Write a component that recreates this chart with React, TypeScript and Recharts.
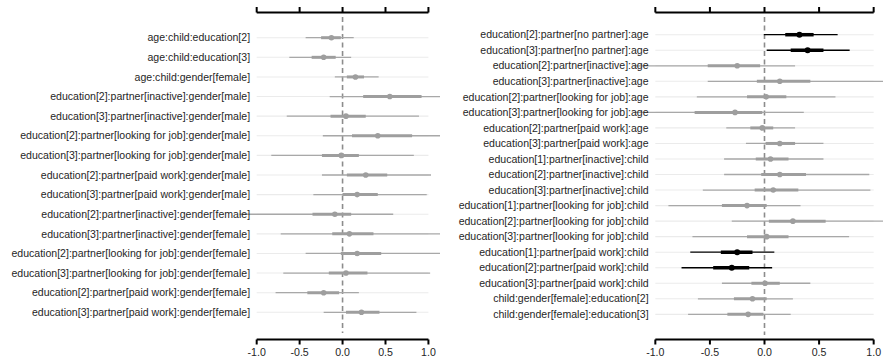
import { ErrorBar, ReferenceLine, Scatter, ScatterChart, XAxis, YAxis } from "recharts";

const xTicks = [-1, -0.5, 0, 0.5, 1];

// left panel
const leftLabels = [
  "age:child:education[2]",
  "age:child:education[3]",
  "age:child:gender[female]",
  "education[2]:partner[inactive]:gender[male]",
  "education[3]:partner[inactive]:gender[male]",
  "education[2]:partner[looking for job]:gender[male]",
  "education[3]:partner[looking for job]:gender[male]",
  "education[2]:partner[paid work]:gender[male]",
  "education[3]:partner[paid work]:gender[male]",
  "education[2]:partner[inactive]:gender[female]",
  "education[3]:partner[inactive]:gender[female]",
  "education[2]:partner[looking for job]:gender[female]",
  "education[3]:partner[looking for job]:gender[female]",
  "education[2]:partner[paid work]:gender[female]",
  "education[3]:partner[paid work]:gender[female]",
];
const leftEst = [-0.13, -0.22, 0.15, 0.55, 0.04, 0.41, -0.015, 0.27, 0.17, -0.09, 0.08, 0.17, 0.04, -0.22, 0.22];
const leftInnerLo = [-0.25, -0.36, 0.05, 0.24, -0.14, 0.11, -0.24, 0.05, 0.0, -0.35, -0.12, -0.02, -0.16, -0.41, 0.04];
const leftInnerHi = [-0.02, -0.08, 0.25, 0.92, 0.27, 0.81, 0.19, 0.52, 0.41, 0.1, 0.36, 0.45, 0.29, -0.04, 0.43];
const leftOuterLo = [-0.43, -0.62, -0.09, -0.15, -0.65, -0.23, -0.83, -0.24, -0.34, -1.2, -0.72, -0.43, -0.69, -0.78, -0.22];
const leftOuterHi = [0.13, 0.1, 0.42, 1.2, 0.89, 1.2, 0.83, 1.03, 0.98, 0.59, 1.2, 1.2, 1.02, 0.19, 0.86];
const leftSig = leftEst.map(() => false);

// right panel
const rightLabels = [
  "education[2]:partner[no partner]:age",
  "education[3]:partner[no partner]:age",
  "education[2]:partner[inactive]:age",
  "education[3]:partner[inactive]:age",
  "education[2]:partner[looking for job]:age",
  "education[3]:partner[looking for job]:age",
  "education[2]:partner[paid work]:age",
  "education[3]:partner[paid work]:age",
  "education[1]:partner[inactive]:child",
  "education[2]:partner[inactive]:child",
  "education[3]:partner[inactive]:child",
  "education[1]:partner[looking for job]:child",
  "education[2]:partner[looking for job]:child",
  "education[3]:partner[looking for job]:child",
  "education[1]:partner[paid work]:child",
  "education[2]:partner[paid work]:child",
  "education[3]:partner[paid work]:child",
  "child:gender[female]:education[2]",
  "child:gender[female]:education[3]",
];
const rightEst = [0.32, 0.395, -0.25, 0.14, 0.015, -0.27, -0.02, 0.14, 0.055, 0.14, 0.08, -0.16, 0.26, 0.02, -0.25, -0.3, 0.005, -0.11, -0.15];
const rightInnerLo = [0.19, 0.24, -0.52, -0.07, -0.16, -0.64, -0.13, 0.01, -0.08, -0.03, -0.09, -0.39, 0.04, -0.16, -0.4, -0.47, -0.12, -0.28, -0.34];
const rightInnerHi = [0.45, 0.54, -0.04, 0.42, 0.2, -0.02, 0.08, 0.28, 0.22, 0.38, 0.31, 0.02, 0.56, 0.22, -0.11, -0.14, 0.14, 0.02, -0.01];
const rightOuterLo = [-0.006, 0.02, -1.2, -0.52, -0.62, -1.2, -0.35, -0.17, -0.37, -0.37, -0.565, -0.88, -0.3, -0.66, -0.68, -0.76, -0.39, -0.61, -0.7];
const rightOuterHi = [0.67, 0.78, 0.28, 1.2, 0.65, 0.36, 0.28, 0.54, 0.54, 0.96, 0.97, 0.33, 1.2, 0.775, 0.09, 0.07, 0.42, 0.26, 0.24];
const rightSig = [true, true, false, false, false, false, false, false, false, false, false, false, false, false, true, true, false, false, false];

type Row = { x: number; y: number; inner: [number, number]; outer: [number, number]; sig: boolean };

function buildRows(est: number[], inLo: number[], inHi: number[], outLo: number[], outHi: number[], sig: boolean[]): Row[] {
  return est.map((e, i) => ({
    x: e,
    y: i,
    inner: [e - inLo[i], inHi[i] - e],
    outer: [e - outLo[i], outHi[i] - e],
    sig: sig[i],
  }));
}

const FONT = "'Liberation Sans', Arial, sans-serif";

type PanelProps = {
  width: number;
  labels: string[];
  rows: Row[];
  xDomain: [number, number];
  yDomain: [number, number];
  zeroSpan: [number, number];
  yAxisWidth: number;
  marginRight: number;
};

function Panel({ width, labels, rows, xDomain, yDomain, zeroSpan, yAxisWidth, marginRight }: PanelProps) {
  const grey = rows.filter((r) => !r.sig);
  const dark = rows.filter((r) => r.sig);
  const rowTicks = labels.map((_, i) => i);

  return (
    <ScatterChart width={width} height={363} margin={{ top: 0, right: marginRight, bottom: 0, left: 0 }}>
      <XAxis
        xAxisId="top"
        orientation="top"
        type="number"
        dataKey="x"
        domain={xDomain}
        allowDataOverflow
        ticks={xTicks}
        tickFormatter={() => ""}
        axisLine={false}
        tickLine={{ stroke: "#000", strokeWidth: 2 }}
        tickSize={5.5}
        height={12.5}
      />
      <XAxis
        xAxisId="bottom"
        type="number"
        dataKey="x"
        domain={xDomain}
        allowDataOverflow
        ticks={xTicks}
        tickFormatter={(v: number) => v.toFixed(1)}
        axisLine={false}
        tickLine={{ stroke: "#000", strokeWidth: 2 }}
        tickSize={5}
        tickMargin={4}
        tick={{ fontSize: 10.6, fill: "#262626", fontFamily: FONT }}
        height={23.5}
      />
      <YAxis
        type="number"
        dataKey="y"
        domain={yDomain}
        allowDataOverflow
        reversed
        ticks={rowTicks}
        interval={0}
        width={yAxisWidth}
        axisLine={false}
        tickLine={false}
        tickSize={0}
        tickMargin={0}
        tick={(p: any) => (
          <text x={p.x + 2} y={p.y} dy={3.7} textAnchor="end" fontSize={10.55} fill="#262626" fontFamily={FONT}>
            {labels[p.payload.value]}
          </text>
        )}
      />
      {rowTicks.map((i) => (
        <ReferenceLine
          key={`g${i}`}
          xAxisId="bottom"
          segment={[{ x: -1, y: i }, { x: 1, y: i }]}
          stroke="#ebebeb"
          strokeWidth={1.1}
          ifOverflow="visible"
        />
      ))}
      <ReferenceLine
        xAxisId="bottom"
        segment={[{ x: 0, y: zeroSpan[0] }, { x: 0, y: zeroSpan[1] }]}
        stroke="#8c8c8c"
        strokeWidth={1.6}
        strokeDasharray="5 3.5"
        ifOverflow="visible"
      />
      <ReferenceLine
        xAxisId="bottom"
        segment={[{ x: -1, y: yDomain[0] }, { x: 1, y: yDomain[0] }]}
        stroke="#000"
        strokeWidth={2}
        ifOverflow="visible"
      />
      <ReferenceLine
        xAxisId="bottom"
        segment={[{ x: -1, y: yDomain[1] }, { x: 1, y: yDomain[1] }]}
        stroke="#000"
        strokeWidth={2}
        ifOverflow="visible"
      />
      <Scatter
        xAxisId="bottom"
        data={grey}
        isAnimationActive={false}
        shape={(p: any) => <circle cx={p.cx} cy={p.cy} r={2.8} fill="#9e9e9e" />}
      >
        <ErrorBar dataKey="outer" direction="x" width={0} stroke="#a8a8a8" strokeWidth={1.3} isAnimationActive={false} />
        <ErrorBar dataKey="inner" direction="x" width={0} stroke="#9e9e9e" strokeWidth={3} isAnimationActive={false} />
      </Scatter>
      {dark.length > 0 && (
        <Scatter
          xAxisId="bottom"
          data={dark}
          isAnimationActive={false}
          shape={(p: any) => <circle cx={p.cx} cy={p.cy} r={3} fill="#000" />}
        >
          <ErrorBar dataKey="outer" direction="x" width={0} stroke="#000" strokeWidth={1.3} isAnimationActive={false} />
          <ErrorBar dataKey="inner" direction="x" width={0} stroke="#000" strokeWidth={3.5} isAnimationActive={false} />
        </Scatter>
      )}
    </ScatterChart>
  );
}

export default function App() {
  const leftRows = buildRows(leftEst, leftInnerLo, leftInnerHi, leftOuterLo, leftOuterHi, leftSig);
  const rightRows = buildRows(rightEst, rightInnerLo, rightInnerHi, rightOuterLo, rightOuterHi, rightSig);

  return (
    <div
      style={{
        position: "absolute",
        left: 0,
        top: 0,
        width: 883,
        height: 363,
        overflow: "hidden",
        background: "#fff",
        display: "flex",
        fontFamily: FONT,
      }}
    >
      <Panel
        width={440}
        labels={leftLabels}
        rows={leftRows}
        xDomain={[-1.1, 1.08]}
        yDomain={[-1.285, 15.387]}
        zeroSpan={[-1.05, 15.05]}
        yAxisWidth={248.1}
        marginRight={4.7}
      />
      <Panel
        width={443}
        labels={rightLabels}
        rows={rightRows}
        xDomain={[-1.08, 1.08]}
        yDomain={[-1.43, 19.62]}
        zeroSpan={[-1.14, 19.33]}
        yAxisWidth={206.6}
        marginRight={0.6}
      />
    </div>
  );
}
